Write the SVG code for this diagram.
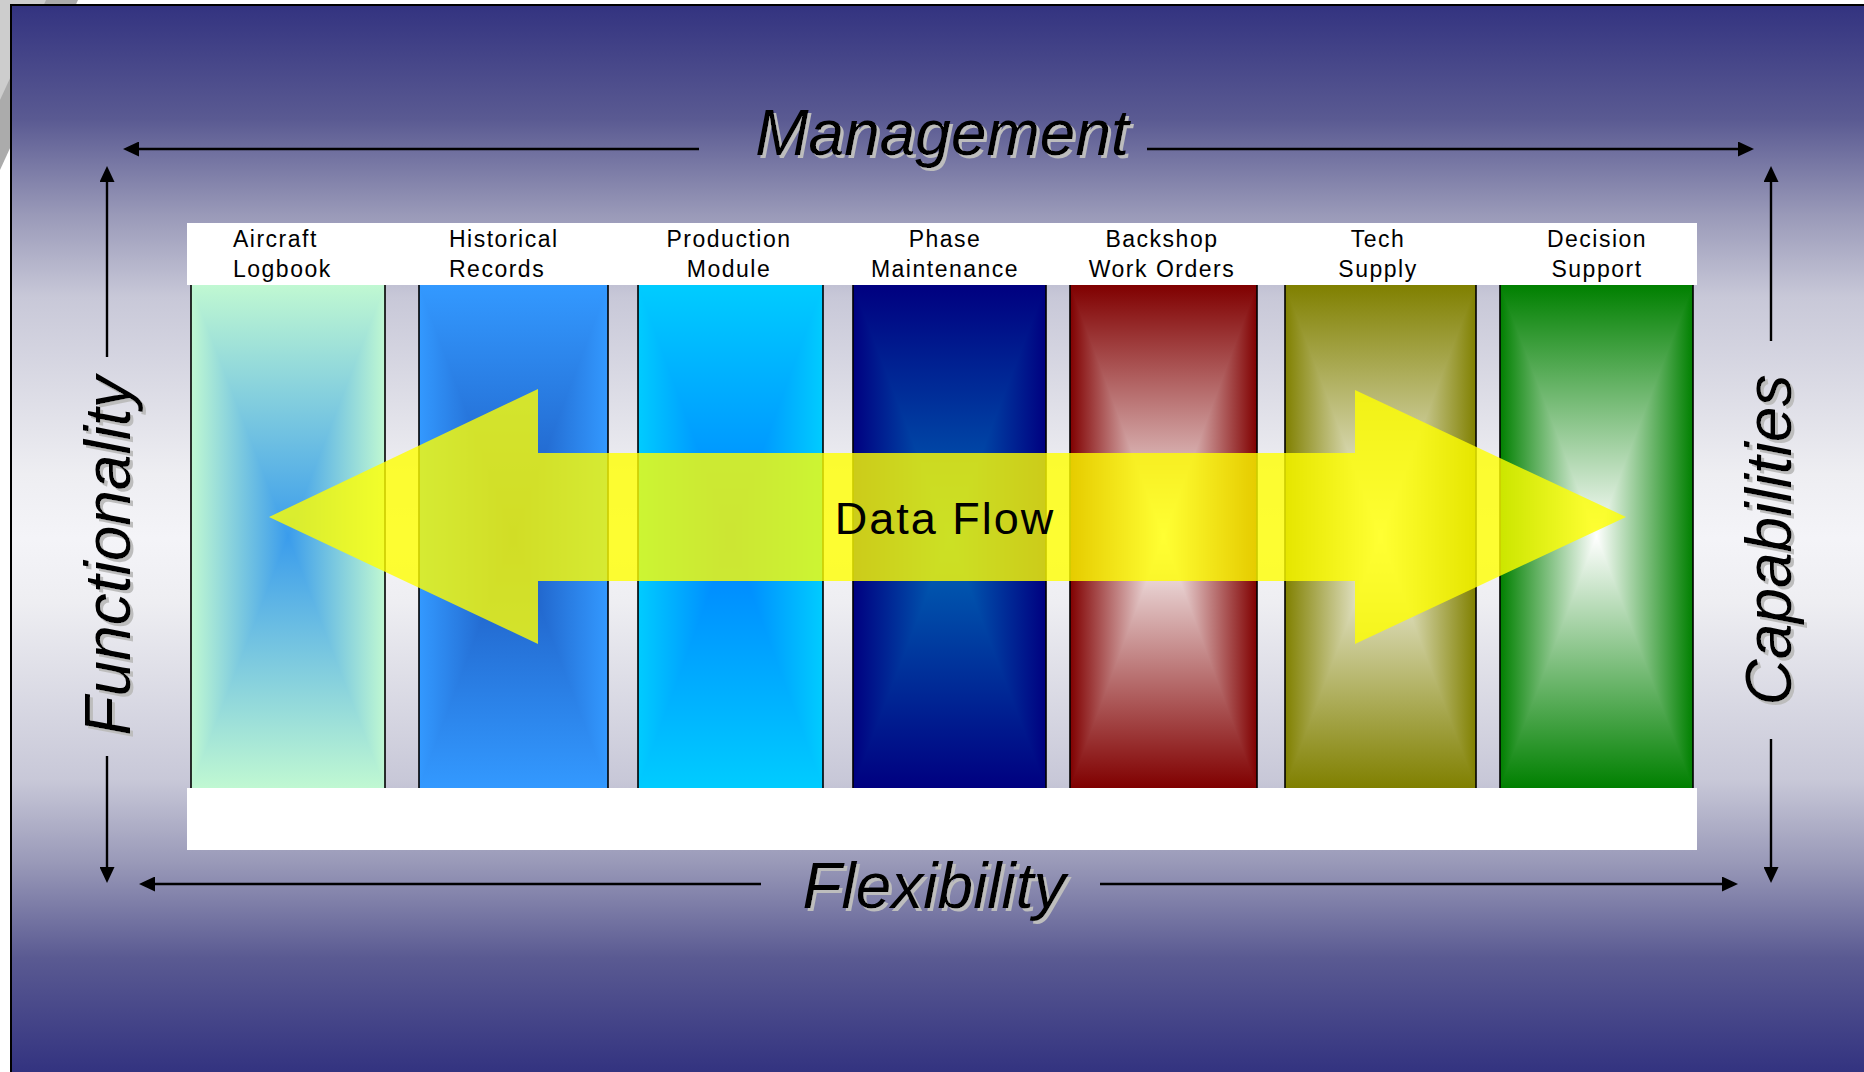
<svg xmlns="http://www.w3.org/2000/svg" width="1864" height="1072" viewBox="0 0 1864 1072">
  <style>
    .axis { font-family: "Liberation Sans", Arial, sans-serif; font-style: italic; font-size: 64px; fill: #000; }
    .lbl { font-family: "Liberation Sans", Arial, sans-serif; font-size: 23px; letter-spacing: 1.5px; fill: #000; }
    .mid { text-anchor: middle; }
    .edge { stroke: #000; stroke-width: 1.6; }
    .conn { stroke: #000; stroke-width: 2.4; fill: none; marker-end: url(#head); }
  </style>
  <defs>
    <linearGradient id="bg" gradientUnits="userSpaceOnUse" x1="0" y1="5" x2="0" y2="1072">
      <stop offset="0" stop-color="#333380"/>
      <stop offset="0.107" stop-color="#5a5a92"/>
      <stop offset="0.196" stop-color="#9999b8"/>
      <stop offset="0.274" stop-color="#c8c8d8"/>
      <stop offset="0.44" stop-color="#eeeef2"/>
      <stop offset="0.5" stop-color="#f4f4f8"/>
      <stop offset="0.56" stop-color="#eeeef2"/>
      <stop offset="0.726" stop-color="#c8c8d8"/>
      <stop offset="0.804" stop-color="#9999b8"/>
      <stop offset="0.893" stop-color="#5a5a92"/>
      <stop offset="1" stop-color="#333380"/>
    </linearGradient>

    <!-- rectangular "from centre" fills: vertical part (v*) for the rect, horizontal part (h*) for the bow-tie -->
    <linearGradient id="h1"><stop offset="0" stop-color="#c0f8d2"/><stop offset="0.5" stop-color="#3a9cec"/><stop offset="1" stop-color="#c0f8d2"/></linearGradient>
    <linearGradient id="v1" href="#h1" x2="0" y2="1"/>
    <linearGradient id="h2"><stop offset="0" stop-color="#3399ff"/><stop offset="0.5" stop-color="#1c56bc"/><stop offset="1" stop-color="#3399ff"/></linearGradient>
    <linearGradient id="v2" href="#h2" x2="0" y2="1"/>
    <linearGradient id="h3"><stop offset="0" stop-color="#00ccff"/><stop offset="0.5" stop-color="#0080ff"/><stop offset="1" stop-color="#00ccff"/></linearGradient>
    <linearGradient id="v3" href="#h3" x2="0" y2="1"/>
    <linearGradient id="h4"><stop offset="0" stop-color="#000080"/><stop offset="0.5" stop-color="#0068b8"/><stop offset="1" stop-color="#000080"/></linearGradient>
    <linearGradient id="v4" href="#h4" x2="0" y2="1"/>
    <linearGradient id="h5"><stop offset="0" stop-color="#800000"/><stop offset="0.5" stop-color="#ffffff"/><stop offset="1" stop-color="#800000"/></linearGradient>
    <linearGradient id="v5" href="#h5" x2="0" y2="1"/>
    <linearGradient id="h6"><stop offset="0" stop-color="#808000"/><stop offset="0.5" stop-color="#ffffff"/><stop offset="1" stop-color="#808000"/></linearGradient>
    <linearGradient id="v6" href="#h6" x2="0" y2="1"/>
    <linearGradient id="h7"><stop offset="0" stop-color="#008000"/><stop offset="0.5" stop-color="#ffffff"/><stop offset="1" stop-color="#008000"/></linearGradient>
    <linearGradient id="v7" href="#h7" x2="0" y2="1"/>

    <filter id="shadow" x="-10%" y="-10%" width="120%" height="120%">
      <feOffset in="SourceAlpha" dx="3" dy="3" result="off"/>
      <feFlood flood-color="#bdbdbd"/>
      <feComposite in2="off" operator="in" result="sh"/>
      <feMerge><feMergeNode in="sh"/><feMergeNode in="SourceGraphic"/></feMerge>
    </filter>

    <marker id="head" markerUnits="userSpaceOnUse" viewBox="0 0 16 15" refX="8" refY="7.5" markerWidth="16" markerHeight="15" orient="auto">
      <path d="M0,0 L16,7.5 L0,15 Z" fill="#000"/>
    </marker>
  </defs>

  <!-- page and slide frame -->
  <rect width="1864" height="1072" fill="#fff"/>
  <polygon points="0,0 78,0 0,170" fill="#ababab"/>
  <polygon points="0,0 46,0 0,100" fill="#cdcdcd"/>
  <rect x="11" y="5" width="1870" height="1080" fill="url(#bg)" stroke="#000" stroke-width="2"/>

  <!-- white header and footer bands -->
  <rect x="187" y="223" width="1510" height="62" fill="#fff"/>
  <rect x="187" y="788" width="1510" height="62" fill="#fff"/>

  <!-- module columns -->
  <g id="aircraft-logbook">
    <rect x="191" y="285" width="194" height="503" fill="url(#v1)"/>
    <path d="M191,285 L288,536.5 L191,788 Z M385,285 L288,536.5 L385,788 Z" fill="url(#h1)"/>
    <path class="edge" d="M191,285 V788 M385,285 V788"/>
    <text class="lbl" x="233" y="247">Aircraft</text>
    <text class="lbl" x="233" y="277">Logbook</text>
  </g>
  <g id="historical-records">
    <rect x="419" y="285" width="189" height="503" fill="url(#v2)"/>
    <path d="M419,285 L513.5,536.5 L419,788 Z M608,285 L513.5,536.5 L608,788 Z" fill="url(#h2)"/>
    <path class="edge" d="M419,285 V788 M608,285 V788"/>
    <text class="lbl" x="449" y="247">Historical</text>
    <text class="lbl" x="449" y="277">Records</text>
  </g>
  <g id="production-module">
    <rect x="638" y="285" width="185" height="503" fill="url(#v3)"/>
    <path d="M638,285 L730.5,536.5 L638,788 Z M823,285 L730.5,536.5 L823,788 Z" fill="url(#h3)"/>
    <path class="edge" d="M638,285 V788 M823,285 V788"/>
    <text class="lbl mid" x="729" y="247">Production</text>
    <text class="lbl mid" x="729" y="277">Module</text>
  </g>
  <g id="phase-maintenance">
    <rect x="853" y="285" width="193" height="503" fill="url(#v4)"/>
    <path d="M853,285 L949.5,536.5 L853,788 Z M1046,285 L949.5,536.5 L1046,788 Z" fill="url(#h4)"/>
    <path class="edge" d="M853,285 V788 M1046,285 V788"/>
    <text class="lbl mid" x="945" y="247">Phase</text>
    <text class="lbl mid" x="945" y="277">Maintenance</text>
  </g>
  <g id="backshop-work-orders">
    <rect x="1070" y="285" width="187" height="503" fill="url(#v5)"/>
    <path d="M1070,285 L1163.5,536.5 L1070,788 Z M1257,285 L1163.5,536.5 L1257,788 Z" fill="url(#h5)"/>
    <path class="edge" d="M1070,285 V788 M1257,285 V788"/>
    <text class="lbl mid" x="1162" y="247">Backshop</text>
    <text class="lbl mid" x="1162" y="277">Work Orders</text>
  </g>
  <g id="tech-supply">
    <rect x="1285" y="285" width="191" height="503" fill="url(#v6)"/>
    <path d="M1285,285 L1380.5,536.5 L1285,788 Z M1476,285 L1380.5,536.5 L1476,788 Z" fill="url(#h6)"/>
    <path class="edge" d="M1285,285 V788 M1476,285 V788"/>
    <text class="lbl mid" x="1378" y="247">Tech</text>
    <text class="lbl mid" x="1378" y="277">Supply</text>
  </g>
  <g id="decision-support">
    <rect x="1500" y="285" width="193" height="503" fill="url(#v7)"/>
    <path d="M1500,285 L1596.5,536.5 L1500,788 Z M1693,285 L1596.5,536.5 L1693,788 Z" fill="url(#h7)"/>
    <path class="edge" d="M1500,285 V788 M1693,285 V788"/>
    <text class="lbl mid" x="1597" y="247">Decision</text>
    <text class="lbl mid" x="1597" y="277">Support</text>
  </g>

  <!-- data flow double arrow across the modules -->
  <g id="data-flow">
    <path d="M269,517 L538,389 L538,453 L1355,453 L1355,390 L1626,517 L1355,644 L1355,581 L538,581 L538,644 Z" fill="#ffff00" fill-opacity="0.8"/>
    <text x="945" y="534" text-anchor="middle" font-family="Liberation Sans, Arial, sans-serif" font-size="45" letter-spacing="2" fill="#000">Data Flow</text>
  </g>

  <!-- axis arrows -->
  <g id="connectors">
    <line class="conn" x1="699" y1="149" x2="131" y2="149"/>
    <line class="conn" x1="1147" y1="149" x2="1746" y2="149"/>
    <line class="conn" x1="107" y1="357" x2="107" y2="174"/>
    <line class="conn" x1="107" y1="756" x2="107" y2="875"/>
    <line class="conn" x1="1771" y1="341" x2="1771" y2="174"/>
    <line class="conn" x1="1771" y1="739" x2="1771" y2="875"/>
    <line class="conn" x1="761" y1="884" x2="147" y2="884"/>
    <line class="conn" x1="1100" y1="884" x2="1730" y2="884"/>
  </g>

  <!-- axis titles -->
  <g id="management" filter="url(#shadow)">
    <text class="axis mid" x="942" y="155">Management</text>
  </g>
  <g id="flexibility" filter="url(#shadow)">
    <text class="axis mid" x="934" y="908">Flexibility</text>
  </g>
  <g id="functionality" filter="url(#shadow)">
    <text class="axis mid" transform="translate(130,556) rotate(-90)">Functionality</text>
  </g>
  <g id="capabilities" filter="url(#shadow)">
    <text class="axis mid" transform="translate(1791,540) rotate(-90)">Capabilities</text>
  </g>
</svg>
